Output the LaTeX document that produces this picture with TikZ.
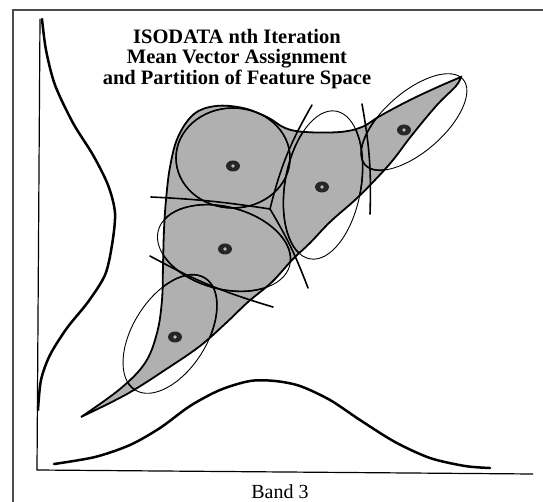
\documentclass[tikz,border=0pt]{standalone}
\usepackage{fontspec}
\setmainfont{Liberation Serif}
\usetikzlibrary{shapes.geometric}

% outline of the populated part of feature space
\newcommand{\featureblob}{plot[smooth, tension=0.6] coordinates {(81,417) (120,389) (145,363) (157,333) (162,300) (163,265) (164,230) (166,200) (170,167) (178,137) (194,114) (216,106) (243,108) (267,117) (285,128) (305,132) (340,132) (362,127) (380,116) (410,100) (440,86) (461,77)} -- plot[smooth, tension=0.6] coordinates {(461,77) (456,86) (437,105) (412,135) (393,160) (375,180) (355,200) (330,222) (310,243) (292,260) (272,282) (248,302) (226,323) (200,346) (168,368) (127,394) (81,417)} -- cycle}

\begin{document}
\begin{tikzpicture}[x=1pt, y=-1pt,
    curve/.style={line width=2.5pt, line cap=round},
    partline/.style={line width=1.6pt, line cap=round},
    ring/.style={line width=0.9pt},
    mean/.style={ellipse, fill=black!85, minimum width=14pt, minimum height=11pt, inner sep=0pt,
      path picture={\fill[gray!55] (path picture bounding box.center) circle (1.8pt);}}]
  \useasboundingbox (0,0) rectangle (543,502);

  % frame and axes
  \draw[black!70, line width=1.4pt] (13,502) -- (13,10) -- (543,10);
  \draw[line width=1.2pt] (40,19) -- (37,470) -- (533,474);

  % band distributions
  \draw[curve] plot[smooth] coordinates {(42,19) (46,50) (55,85) (73,123) (93,155) (108,185) (115,213) (112,245) (105,275) (88,302) (67,328) (50,355) (41,380) (38,410)};
  \draw[curve] plot[smooth] coordinates {(54,464) (95,457) (130,445) (160,428) (190,406) (220,390) (250,381) (275,381) (300,386) (330,400) (360,420) (395,442) (430,458) (465,466) (490,468)};

  % feature space
  \fill[gray!62] \featureblob;

  \draw[ring] (233,158) ellipse [x radius=57pt, y radius=50pt];
  \draw[ring, rotate around={-10:(323,185)}] (323,185) ellipse [x radius=38pt, y radius=75pt];
  \draw[ring, rotate around={41:(414,122)}] (414,122) ellipse [x radius=65pt, y radius=30pt];
  \draw[ring, rotate around={-15:(224,248)}] (224,248) ellipse [x radius=68pt, y radius=41pt];
  \draw[ring, rotate around={58:(170,334)}] (170,334) ellipse [x radius=66pt, y radius=37pt];
  \begin{scope}
    \clip \featureblob;
    \draw[partline] (233,158) ellipse [x radius=57pt, y radius=50pt];
    \draw[partline, rotate around={-10:(323,185)}] (323,185) ellipse [x radius=38pt, y radius=75pt];
    \draw[partline, rotate around={41:(414,122)}] (414,122) ellipse [x radius=65pt, y radius=30pt];
    \draw[partline, rotate around={-15:(224,248)}] (224,248) ellipse [x radius=68pt, y radius=41pt];
    \draw[partline, rotate around={58:(170,334)}] (170,334) ellipse [x radius=66pt, y radius=37pt];
  \end{scope}

  % partition lines
  \coordinate (j) at (270,209);
  \coordinate (t12) at (312,105);
  \coordinate (t14) at (151,197);
  \coordinate (t24) at (308,288);
  \coordinate (t45a) at (150,256);
  \coordinate (t45b) at (273,307);
  \coordinate (t23a) at (362,104);
  \coordinate (t23b) at (370,214);
  \draw[partline] (t12) to[bend right=8] (j);
  \draw[partline] (t14) to[bend left=3] (j);
  \draw[partline] (j) to[bend left=5] (t24);
  \draw[partline] (t45a) to[bend right=6] (t45b);
  \draw[partline] (t23a) to[bend left=6] (t23b);

  \draw[line width=1.8pt] \featureblob;

  % cluster means
  \node[mean] (m1) at (233,166) {};
  \node[mean] (m2) at (322,187) {};
  \node[mean] (m3) at (404,130) {};
  \node[mean] (m4) at (225,249) {};
  \node[mean] (m5) at (175,337) {};

  \node[align=center, font=\bfseries\fontsize{20.5}{20.5}\selectfont] (title) at (237,59) {ISODATA nth Iteration\\Mean Vector Assignment\\and Partition of Feature Space};
  \node[anchor=base, font=\fontsize{20}{20}\selectfont] (band) at (280,498) {Band 3};
\end{tikzpicture}
\end{document}
